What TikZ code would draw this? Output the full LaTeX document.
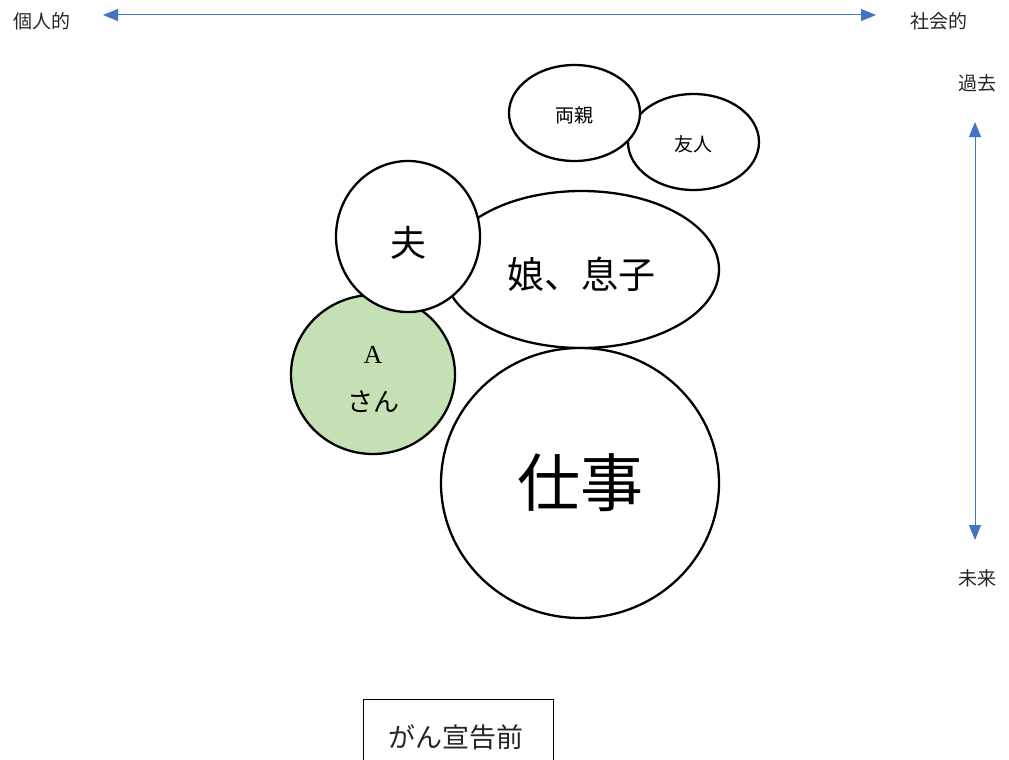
\documentclass[tikz,border=0pt]{standalone}
\usepackage{fontspec}
\setmainfont{Liberation Serif}
\newfontfamily\jp{Noto Sans CJK JP}
\usetikzlibrary{shapes.geometric,arrows.meta}
\definecolor{axisblue}{HTML}{4472C4}
\definecolor{selfgreen}{HTML}{C5E0B4}
\newcommand{\lowered}[2]{\raisebox{-#1}[\height][\depth]{#2}}
\tikzset{
  bubble/.style={ellipse, draw=black, line width=2.3pt, fill=white, inner sep=0pt, align=center, font=\jp},
  axislabel/.style={font=\jp\fontsize{19}{21}\selectfont, text=black!85},
  axisarrow/.style={draw=axisblue, line width=1pt, {Triangle[length=15pt,width=12pt]}-{Triangle[length=15pt,width=12pt]}},
}
\begin{document}
\begin{tikzpicture}[x=1pt,y=-1pt]
\useasboundingbox[fill=white] (0,0) rectangle (1009,760);
\begin{scope}
\clip (0,0) rectangle (1009,760);
% axis labels
\node[axislabel] (personal) at (42,21) {個人的};
\node[axislabel] (social) at (939,21) {社会的};
\node[axislabel] (past) at (977,83) {過去};
\node[axislabel] (future) at (977,578) {未来};
\coordinate (hl) at (103,15);
\coordinate (hr) at (876,15);
\coordinate (vt) at (975,122);
\coordinate (vb) at (975,540);
\draw[axisarrow] (hl) -- (hr);
\draw[axisarrow] (vt) -- (vb);
% bubbles
\node[bubble, minimum width=131pt, minimum height=96pt, font=\jp\fontsize{19}{21}\selectfont] (friends) at (693.5,142) {\lowered{2pt}{友人}};
\node[bubble, minimum width=131pt, minimum height=96pt, font=\jp\fontsize{19}{21}\selectfont] (parents) at (574.5,113) {\lowered{2pt}{両親}};
\node[bubble, minimum width=275pt, minimum height=157pt, font=\jp\fontsize{37}{40}\selectfont] (children) at (581.5,269.5) {\lowered{5pt}{娘、息子}};
\node[bubble, minimum width=278pt, minimum height=270pt, font=\jp\fontsize{63}{66}\selectfont] (work) at (580,483) {仕事};
\node[bubble, fill=selfgreen, minimum width=164pt, minimum height=159pt, font=\fontsize{26}{47}\selectfont] (self) at (373,374.5) {\lowered{4pt}{A}\\{\jp\fontsize{26}{47}\selectfont\lowered{5pt}{さん}}};
\node[bubble, minimum width=144pt, minimum height=151pt, font=\jp\fontsize{36}{38}\selectfont] (husband) at (408,236.5) {\lowered{6pt}{夫}};
% caption box
\node[draw=black, line width=1.2pt, minimum width=190pt, minimum height=80pt, anchor=north west, inner sep=0pt] (frame) at (363,699) {};
\node[font=\jp\fontsize{27}{30}\selectfont, text=black!85] (caption) at (456,737) {がん宣告前};
\end{scope}
\end{tikzpicture}
\end{document}
